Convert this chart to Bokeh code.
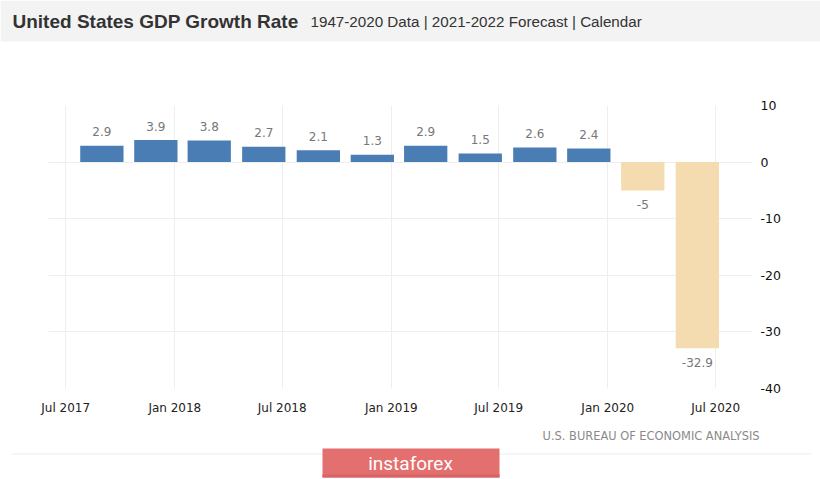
import pandas as pd
from bokeh.plotting import figure
from bokeh.layouts import column
from bokeh.models import ColumnDataSource, Range1d, FixedTicker
from bokeh.core.properties import value
from bokeh.embed import file_html
from bokeh.resources import INLINE

# ---------------- data ----------------
quarters = ["2017-08-31", "2017-11-30", "2018-02-28", "2018-05-31", "2018-08-31", "2018-11-30",
            "2019-02-28", "2019-05-31", "2019-08-31", "2019-11-30", "2020-02-29", "2020-05-31"]
growth = [2.9, 3.9, 3.8, 2.7, 2.1, 1.3, 2.9, 1.5, 2.6, 2.4, -5, -32.9]
growth_labels = ["2.9", "3.9", "3.8", "2.7", "2.1", "1.3", "2.9", "1.5", "2.6", "2.4", "-5", "-32.9"]

x_tick_dates = ["2017-07-01", "2018-01-01", "2018-07-01", "2019-01-01",
                "2019-07-01", "2020-01-01", "2020-07-01"]
x_tick_labels = ["Jul 2017", "Jan 2018", "Jul 2018", "Jan 2019", "Jul 2019", "Jan 2020", "Jul 2020"]
y_ticks = [10, 0, -10, -20, -30, -40]
y_tick_labels = ["10", "0", "-10", "-20", "-30", "-40"]

title_text = ["United States GDP Growth Rate"]
subtitle_text = ["1947-2020 Data | 2021-2022 Forecast | Calendar"]
source_text = ["U.S. BUREAU OF ECONOMIC ANALYSIS"]
logo_text = ["instaforex"]

W = 820
H_HEAD, H_MAIN, H_FOOT = 87, 333, 59


def ms(d):
    return float(pd.Timestamp(d).value // 10**6)


DAY = 86400000.0
BLUE = "#4a7db3"
BEIGE = "#f5dcb0"
PANEL = "#ececec"


def blank(h):
    f = figure(width=W, height=h, x_range=Range1d(0, W), y_range=Range1d(h, 0),
               output_backend="svg", toolbar_location=None,
               x_axis_location=None, y_axis_location=None, frame_align=False,
               min_border=0, min_border_left=0, min_border_right=0, min_border_top=0, min_border_bottom=0)
    f.grid.visible = False
    f.outline_line_color = None
    f.background_fill_color = "white"
    f.border_fill_color = "white"
    return f


# ---------------- header ----------------
head = blank(H_HEAD)
head.quad(left=[0], right=[W], top=[0], bottom=[41], fill_color="#f3f3f3", line_color=None)
head.text(x=[12], y=[21], text=title_text, text_font=value("Liberation Sans"), text_font_style="bold",
          text_font_size="19px", text_color="#333333", text_baseline="middle")
head.text(x=[310], y=[21], text=subtitle_text, text_font=value("Liberation Sans"),
          text_font_size="15.2px", text_color="#333333", text_baseline="middle")

# ---------------- main chart ----------------
src = ColumnDataSource(dict(
    x=[ms(d) for d in quarters],
    top=growth,
    color=[BLUE if v >= 0 else BEIGE for v in growth],
    label=growth_labels,
    yoff=[-14 if v >= 0 else 14 for v in growth],
))

p = figure(width=W, height=H_MAIN, x_axis_type="datetime", y_axis_location="right",
           x_range=Range1d(ms("2017-06-02"), ms("2020-09-01")), y_range=Range1d(-40, 10),
           output_backend="svg", toolbar_location=None, frame_align=False,
           min_border_left=48, min_border_right=68, min_border_top=18, min_border_bottom=32)
p.outline_line_color = None
p.background_fill_color = "white"
p.border_fill_color = "white"

p.vbar(x="x", top="top", bottom=0, width=73 * DAY, fill_color="color", line_color=None, source=src)
p.text(x="x", y="top", text="label", y_offset="yoff", text_align="center", text_baseline="middle",
       text_font_size="12px", text_color="#777777", text_font=value("DejaVu Sans"), source=src)

xt = [ms(d) for d in x_tick_dates]
xa = p.xaxis[0]
xa.ticker = FixedTicker(ticks=xt)
xa.major_label_overrides = {t: l for t, l in zip(xt, x_tick_labels)}
xa.axis_line_color = None
xa.major_tick_line_color = None
xa.minor_tick_line_color = None
xa.major_label_standoff = 6
xa.major_label_text_font = "DejaVu Sans"
xa.major_label_text_font_size = "12px"
xa.major_label_text_color = "#222222"

ya = p.yaxis[0]
ya.ticker = FixedTicker(ticks=y_ticks)
ya.major_label_overrides = {t: l for t, l in zip(y_ticks, y_tick_labels)}
ya.axis_line_color = None
ya.major_tick_line_color = None
ya.minor_tick_line_color = None
ya.major_label_standoff = 2
ya.major_label_text_font = "DejaVu Sans"
ya.major_label_text_font_size = "12.5px"
ya.major_label_text_color = "#111111"

p.xgrid.ticker = FixedTicker(ticks=xt)
p.ygrid.ticker = FixedTicker(ticks=y_ticks)
p.xgrid.grid_line_color = "#eeeeee"
p.ygrid.grid_line_color = "#eeeeee"

# ---------------- footer ----------------
foot = blank(H_FOOT)
foot.segment(x0=[11], y0=[33.5], x1=[811], y1=[33.5], line_color=PANEL, line_width=1)
foot.text(x=[759], y=[15], text=source_text,
          text_font=value("DejaVu Sans Condensed, Liberation Sans Narrow, Liberation Sans"),
          text_font_size="12.7px", text_color="#8a8a8a", text_baseline="middle", text_align="right")
foot.quad(left=[322], right=[499], top=[28], bottom=[57], fill_color="#e46f6f", line_color=None)
foot.quad(left=[322], right=[499], top=[54], bottom=[57], fill_color="#d66464", line_color=None)
foot.text(x=[410], y=[43], text=logo_text, text_font=value("Roboto"), text_font_size="19px",
          text_color="white", text_baseline="middle", text_align="center")

layout = column(head, p, foot, spacing=0)
open("out.html", "w").write(file_html(layout, INLINE))
